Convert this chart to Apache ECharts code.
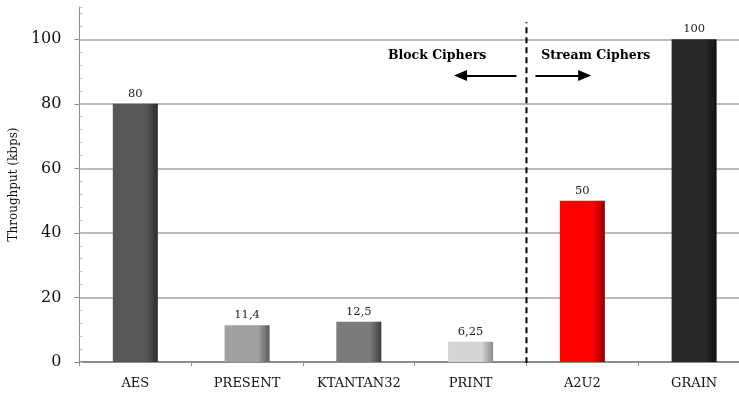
<!DOCTYPE html>
<html>
<head>
<meta charset="utf-8">
<script src="https://cdn.jsdelivr.net/npm/echarts@6/dist/echarts.min.js"></script>
<style>
  html, body { margin: 0; padding: 0; background: #fff; overflow: hidden; }
  #chart { width: 760px; height: 396px; }
</style>
</head>
<body>
<div id="chart"></div>
<script>
// Cipher throughput data
const ciphers = ['AES', 'PRESENT', 'KTANTAN32', 'PRINT', 'A2U2', 'GRAIN'];
const throughput = [80, 11.4, 12.5, 6.25, 50, 100];
const yTicks = [0, 20, 40, 60, 80, 100];
// base colour / shaded edge colour for each bar
const barBase = ['#575757', '#a0a0a0', '#7a7a7a', '#d6d6d6', '#ff0000', '#272727'];
const barEdge = ['#2c2c2c', '#5a5a5a', '#3e3e3e', '#8a8a8a', '#8a0000', '#111111'];
// divider between block and stream ciphers (category boundary, value span)
const dividerX = 3.5;
const dividerSpan = [-0.4, 105.3];
// group annotations: [label, x, y]
const groupLabels = [['Block Ciphers', 2.70, 95], ['Stream Ciphers', 4.12, 95]];
// arrows: [[x from, y], [x to, y]]
const groupArrows = [[[3.41, 88.8], [2.91, 88.8]], [[3.58, 88.8], [4.02, 88.8]]];

const FONT = 'DejaVu Serif';
const fmtComma = v => String(v).replace('.', ',');

const chart = echarts.init(document.getElementById('chart'), null, { renderer: 'canvas' });

const barData = throughput.map((v, i) => ({
  value: v,
  itemStyle: {
    color: new echarts.graphic.LinearGradient(0, 0, 1, 0, [
      { offset: 0, color: barBase[i] },
      { offset: 0.75, color: barBase[i] },
      { offset: 1, color: barEdge[i] }
    ])
  }
}));

chart.setOption({
  animation: false,
  backgroundColor: '#fff',
  grid: { left: 79, top: 7, width: 671, height: 355, containLabel: false },
  xAxis: [
    {
      type: 'category',
      data: ciphers,
      boundaryGap: true,
      axisLine: { lineStyle: { color: '#8c8c8c', width: 2 } },
      axisTick: { show: true, length: 4, lineStyle: { color: '#8c8c8c' } },
      axisLabel: { fontFamily: FONT, fontSize: 13, color: '#111', margin: 15 },
      splitLine: { show: false }
    },
    {
      type: 'value', min: -0.5, max: 5.5, show: false
    }
  ],
  yAxis: [
    {
      type: 'value', min: 0, max: 110, interval: 20,
      name: 'Throughput (kbps)',
      nameLocation: 'middle',
      nameGap: 53,
      nameRotate: 90,
      nameTextStyle: { fontFamily: FONT, fontSize: 12, color: '#111' },
      axisLine: { show: true, onZero: false, lineStyle: { color: '#8c8c8c', width: 1 } },
      axisTick: { show: true, length: 5, customValues: yTicks, lineStyle: { color: '#8c8c8c' } },
      axisLabel: {
        fontFamily: FONT, fontSize: 16, color: '#111', margin: 18,
        customValues: yTicks
      },
      splitLine: { show: true, lineStyle: { color: '#a3a3a3', width: 1.5 } }
    },
    {
      type: 'value', min: 0, max: 110, interval: 4,
      position: 'left',
      axisLine: { show: false, onZero: false },
      axisTick: { show: true, inside: true, length: 3, lineStyle: { color: '#c4c4c4' } },
      axisLabel: { show: false },
      splitLine: { show: false }
    }
  ],
  series: [
    {
      type: 'bar',
      xAxisIndex: 0,
      yAxisIndex: 0,
      data: barData,
      barWidth: 45,
      label: {
        show: true, position: 'top', distance: 4,
        fontFamily: FONT, fontSize: 11.5, color: '#222',
        formatter: p => fmtComma(p.value)
      }
    },
    {
      // dashed divider with group annotations
      type: 'line',
      xAxisIndex: 1,
      yAxisIndex: 0,
      data: [[dividerX, dividerSpan[0]], [dividerX, dividerSpan[1]]],
      symbol: 'none',
      lineStyle: { color: '#000', width: 2, type: [6, 4] },
      silent: true,
      z: 5,
      markLine: {
        silent: true,
        symbol: ['none', 'triangle'],
        symbolSize: [11, 13],
        lineStyle: { color: '#000', width: 2, type: 'solid' },
        label: { show: false },
        data: groupArrows.map(a => [{ coord: a[0] }, { coord: a[1] }])
      },
      markPoint: {
        silent: true,
        symbol: 'rect',
        symbolSize: 1,
        itemStyle: { color: 'transparent' },
        label: {
          show: true, position: 'inside',
          fontFamily: FONT, fontSize: 12.5, fontWeight: 'bold', color: '#000',
          formatter: p => p.name
        },
        data: groupLabels.map(g => ({ name: g[0], coord: [g[1], g[2]] }))
      }
    }
  ]
});
</script>
</body>
</html>
